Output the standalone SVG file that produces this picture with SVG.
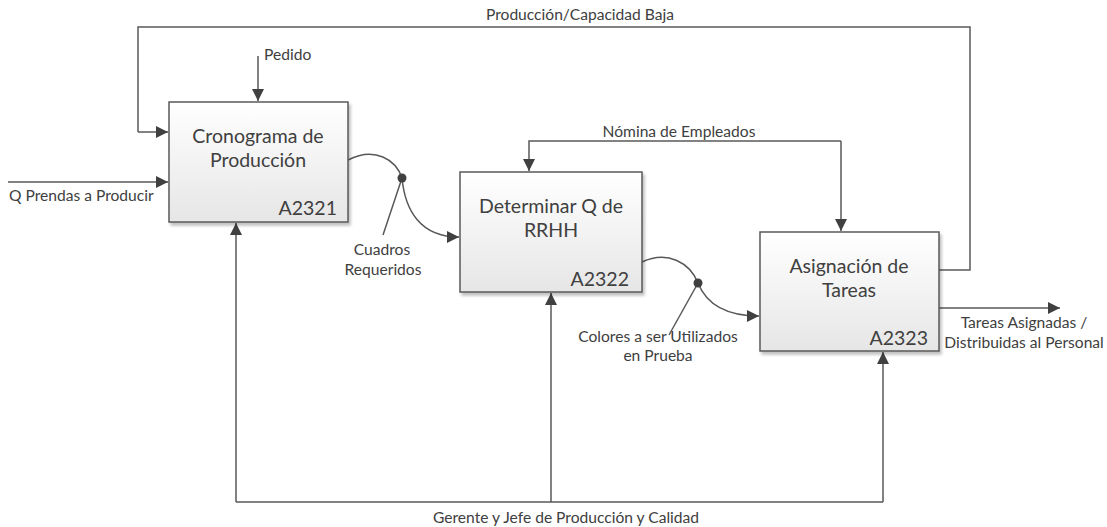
<svg xmlns="http://www.w3.org/2000/svg" width="1107" height="527" viewBox="0 0 1107 527">
<defs>
<linearGradient id="boxfill" x1="0" y1="0" x2="0" y2="1">
<stop offset="0" stop-color="#ffffff"/>
<stop offset="1" stop-color="#e6e6e6"/>
</linearGradient>
<filter id="shadow" x="-10%" y="-10%" width="130%" height="130%">
<feGaussianBlur in="SourceAlpha" stdDeviation="1.5"/>
<feOffset dx="2" dy="3" result="b"/>
<feComponentTransfer><feFuncA type="linear" slope="0.25"/></feComponentTransfer>
<feMerge><feMergeNode/><feMergeNode in="SourceGraphic"/></feMerge>
</filter>
<marker id="arr" viewBox="0 0 10 10" refX="10" refY="5" markerWidth="12" markerHeight="12" markerUnits="userSpaceOnUse" orient="auto">
<path d="M0,0 L10,5 L0,10 z" fill="#404040"/>
</marker>
</defs>
<style>
.box{fill:url(#boxfill);stroke:#595959;stroke-width:1.5;filter:url(#shadow)}
.t{font-family:Lato,"Liberation Sans",sans-serif;font-size:19.5px;fill:#404040;text-anchor:middle}
.id{font-family:Lato,"Liberation Sans",sans-serif;font-size:19.5px;fill:#404040;text-anchor:end}
.l{font-family:Lato,"Liberation Sans",sans-serif;font-size:15.6px;fill:#404040}
.c{fill:none;stroke:#595959;stroke-width:1.5}
.a{marker-end:url(#arr)}
</style>
<g id="connectors">
<path class="c" d="M939,270 H970 V27 H138 V132"/>
<path class="c a" d="M138,132 H168"/>
<path class="c a" d="M258,56 V101"/>
<path class="c a" d="M8,182 H168"/>
<path class="c" d="M236,502 H883"/>
<path class="c a" d="M236,502 V223"/>
<path class="c a" d="M551,502 V293"/>
<path class="c a" d="M883,502 V352"/>
<path class="c a" d="M841,141 H529 V171"/>
<path class="c a" d="M841,141 V231"/>
<path class="c a" d="M348,160 C375,146 396,160 402,178 C405,210 420,237 459,237"/>
<path class="c" d="M402,178 L383,235"/>
<circle cx="402" cy="178" r="4.5" fill="#404040"/>
<path class="c a" d="M642,262 C668,250 690,263 698,283 C706,303 724,316 759,316"/>
<path class="c" d="M698,283 L669,335"/>
<circle cx="698" cy="283" r="4.5" fill="#404040"/>
<path class="c a" d="M939,308 H1060"/>
</g>
<g id="A2321">
<rect class="box" x="169" y="102" width="179" height="120"/>
<text class="t" x="258" y="143">Cronograma de</text>
<text class="t" x="258" y="167">Producción</text>
<text class="id" x="337" y="215">A2321</text>
</g>
<g id="A2322">
<rect class="box" x="460" y="172" width="182" height="120"/>
<text class="t" x="551" y="213">Determinar Q de</text>
<text class="t" x="551" y="237">RRHH</text>
<text class="id" x="629" y="286">A2322</text>
</g>
<g id="A2323">
<rect class="box" x="760" y="232" width="179" height="119"/>
<text class="t" x="849" y="273">Asignación de</text>
<text class="t" x="849" y="297">Tareas</text>
<text class="id" x="928" y="345">A2323</text>
</g>
<g id="labels">
<text class="l" x="580" y="20" text-anchor="middle">Producción/Capacidad Baja</text>
<text class="l" x="264" y="60">Pedido</text>
<text class="l" x="9" y="201">Q Prendas a Producir</text>
<text class="l" x="679" y="137" text-anchor="middle">Nómina de Empleados</text>
<text class="l" x="382" y="255" text-anchor="middle">Cuadros</text>
<text class="l" x="383" y="275" text-anchor="middle">Requeridos</text>
<text class="l" x="658" y="342" text-anchor="middle">Colores a ser Utilizados</text>
<text class="l" x="658" y="361" text-anchor="middle">en Prueba</text>
<text class="l" x="1024" y="328" text-anchor="middle">Tareas Asignadas /</text>
<text class="l" x="1024" y="348" text-anchor="middle">Distribuidas al Personal</text>
<text class="l" x="566" y="523" text-anchor="middle">Gerente y Jefe de Producción y Calidad</text>
</g>
</svg>
